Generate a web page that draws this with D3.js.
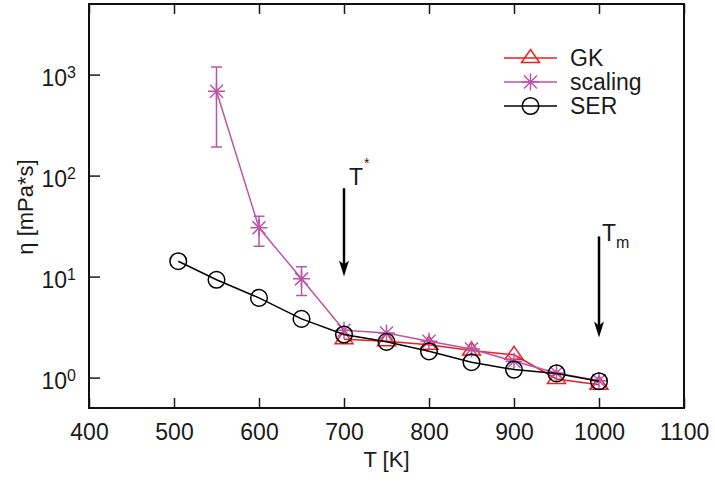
<!DOCTYPE html>
<html>
<head>
<meta charset="utf-8">
<script src="https://cdn.jsdelivr.net/npm/d3@7"></script>
<style>
  body { margin: 0; background: #fff; }
  svg text { font-family: "Liberation Sans", Arial, sans-serif; fill: #1a1a1a; }
</style>
</head>
<body>
<div class="chart"></div>
<script>
// temperatures [K]
var serT = [505, 550, 600, 650, 700, 750, 800, 850, 900, 950, 1000];
var serEta = [14.2, 9.3, 6.15, 3.81, 2.67, 2.26, 1.82, 1.42, 1.2, 1.1, 0.92];

var scaleT = [550, 600, 650, 700, 750, 800, 850, 900, 950, 1000];
var scaleEta = [684, 30.4, 9.5, 2.94, 2.77, 2.29, 1.92, 1.45, 1.11, 0.93];
var scaleLo = [192, 20, 6.5, null, null, null, null, null, null, null];
var scaleHi = [1192, 39.5, 12.5, null, null, null, null, null, null, null];

var gkT = [700, 750, 800, 850, 900, 950, 1000];
var gkEta = [2.4, 2.29, 2.12, 1.85, 1.68, 0.97, 0.85];

var xTicks = [400, 500, 600, 700, 800, 900, 1000, 1100];
var yTicks = [1, 10, 100, 1000];
var yExp = ["0", "1", "2", "3"];

var seriesNames = ["GK", "scaling", "SER"];

var svgWidth = 715, svgHeight = 484;
var margin = {top: 4, bottom: 76, right: 31, left: 89};
var width = svgWidth - margin.left - margin.right;
var height = svgHeight - margin.top - margin.bottom;

var svg = d3.select(".chart").append("svg")
  .attr("width", svgWidth)
  .attr("height", svgHeight);

var chartGroup = svg.append("g")
  .attr("transform", `translate(${margin.left}, ${margin.top})`);

var xScale = d3.scaleLinear().domain([400, 1100]).range([0, width]);
var yScale = d3.scaleLog().domain([0.5, 5000]).range([height, 0]);

var red = "#f01e1e", mag = "#bb55a8";

// axes
var xAxis = d3.axisBottom(xScale).tickValues(xTicks).tickFormat(d3.format("d"))
  .tickSizeInner(-10).tickSizeOuter(0).tickPadding(16);
var gx = chartGroup.append("g").attr("transform", `translate(0, ${height})`).call(xAxis);
gx.select(".domain").remove();
gx.selectAll("line").attr("stroke", "#1a1a1a").attr("stroke-width", 1.5);
gx.selectAll("text").style("font-size", "23px").attr("fill", "#1a1a1a");

var xTop = d3.axisTop(xScale).tickValues(xTicks).tickSizeInner(-10).tickSizeOuter(0).tickFormat("");
var gxt = chartGroup.append("g").call(xTop);
gxt.select(".domain").remove();
gxt.selectAll("line").attr("stroke", "#1a1a1a").attr("stroke-width", 1.5);

var yAxis = d3.axisLeft(yScale).tickValues(yTicks).tickSizeInner(-11).tickSizeOuter(0).tickFormat("");
var gy = chartGroup.append("g").call(yAxis);
gy.select(".domain").remove();
gy.selectAll("line").attr("stroke", "#1a1a1a").attr("stroke-width", 1.5);

yTicks.forEach(function(v, i) {
  var t = chartGroup.append("text")
    .attr("x", -13)
    .attr("y", yScale(v) + 11)
    .attr("text-anchor", "end");
  t.append("tspan").style("font-size", "23px").text("10");
  t.append("tspan").style("font-size", "16px").attr("dy", -8).text(yExp[i]);
});

// frame
chartGroup.append("rect")
  .attr("width", width).attr("height", height)
  .attr("fill", "none").attr("stroke", "#111").attr("stroke-width", 2);

// axis titles
svg.append("text")
  .attr("x", margin.left + width / 2)
  .attr("y", 467)
  .attr("text-anchor", "middle")
  .style("font-size", "22px")
  .text("T [K]");

svg.append("text")
  .attr("transform", "translate(33, 207) rotate(-90)")
  .attr("text-anchor", "middle")
  .style("font-size", "22px")
  .text("η [mPa*s]");

// markers
function triangle(g, cx, cy, color) {
  g.append("path")
    .attr("d", `M${cx},${cy - 8.5}L${cx + 9},${cy + 4.5}L${cx - 9},${cy + 4.5}Z`)
    .attr("fill", "none").attr("stroke", color).attr("stroke-width", 1.5);
}
function star(g, cx, cy, color) {
  var r = 8.5, d = 6.5;
  g.append("path")
    .attr("d", `M${cx},${cy - r}V${cy + r}M${cx - r},${cy}H${cx + r}` +
      `M${cx - d},${cy - d}L${cx + d},${cy + d}M${cx - d},${cy + d}L${cx + d},${cy - d}`)
    .attr("fill", "none").attr("stroke", color).attr("stroke-width", 1.5);
}
function circle(g, cx, cy, color) {
  g.append("circle").attr("cx", cx).attr("cy", cy).attr("r", 8.3)
    .attr("fill", "none").attr("stroke", color).attr("stroke-width", 1.5);
}

var line = d3.line().x(d => xScale(d[0])).y(d => yScale(d[1]));

// GK
var gkData = gkT.map((t, i) => [t, gkEta[i]]);
var gGK = chartGroup.append("g");
gGK.append("path").attr("d", line(gkData)).attr("fill", "none").attr("stroke", red).attr("stroke-width", 1.5);
gkData.forEach(d => triangle(gGK, xScale(d[0]), yScale(d[1]), red));

// scaling
var scData = scaleT.map((t, i) => [t, scaleEta[i], scaleLo[i], scaleHi[i]]);
var gSc = chartGroup.append("g");
gSc.append("path").attr("d", line(scData)).attr("fill", "none").attr("stroke", mag).attr("stroke-width", 1.5);
scData.forEach(function(d) {
  var cx = xScale(d[0]);
  if (d[2] != null) {
    var y0 = yScale(d[2]), y1 = yScale(d[3]);
    gSc.append("path")
      .attr("d", `M${cx},${y0}V${y1}M${cx - 5.5},${y0}H${cx + 5.5}M${cx - 5.5},${y1}H${cx + 5.5}`)
      .attr("fill", "none").attr("stroke", mag).attr("stroke-width", 1.5);
  }
  star(gSc, cx, yScale(d[1]), mag);
});

// SER
var serData = serT.map((t, i) => [t, serEta[i]]);
var gSer = chartGroup.append("g");
gSer.append("path").attr("d", line(serData)).attr("fill", "none").attr("stroke", "#000").attr("stroke-width", 1.5);
serData.forEach(d => circle(gSer, xScale(d[0]), yScale(d[1]), "#000"));

// arrows
function arrow(t, from, to) {
  var cx = xScale(t), y0 = yScale(from), y1 = yScale(to);
  chartGroup.append("line").attr("x1", cx).attr("x2", cx).attr("y1", y0).attr("y2", y1 - 10)
    .attr("stroke", "#000").attr("stroke-width", 2.5);
  chartGroup.append("path")
    .attr("d", `M${cx},${y1}L${cx - 5},${y1 - 16}L${cx},${y1 - 12}L${cx + 5},${y1 - 16}Z`)
    .attr("fill", "#000");
}
arrow(700, 75, 10);
arrow(1000, 25, 2.5);

var ts = chartGroup.append("text")
  .attr("x", xScale(700) + 5).attr("y", yScale(75) - 3);
ts.append("tspan").style("font-size", "23px").text("T");
ts.append("tspan").style("font-size", "14px").attr("dy", -17).attr("dx", 1).text("*");

var tm = chartGroup.append("text")
  .attr("x", xScale(1000) + 3).attr("y", yScale(25) + 5);
tm.append("tspan").style("font-size", "23px").text("T");
tm.append("tspan").style("font-size", "16px").attr("dy", 7).text("m");

// legend
var legend = svg.append("g");
var legY = [58, 82, 106];
var legColors = [red, mag, "#000"];
var markers = [triangle, star, circle];
seriesNames.forEach(function(name, i) {
  legend.append("line").attr("x1", 504).attr("x2", 557).attr("y1", legY[i]).attr("y2", legY[i])
    .attr("stroke", legColors[i]).attr("stroke-width", 1.5);
  markers[i](legend, 530.5, legY[i], legColors[i]);
  legend.append("text").attr("x", 570).attr("y", legY[i] + 8)
    .style("font-size", "23px").text(name);
});
</script>
</body>
</html>
